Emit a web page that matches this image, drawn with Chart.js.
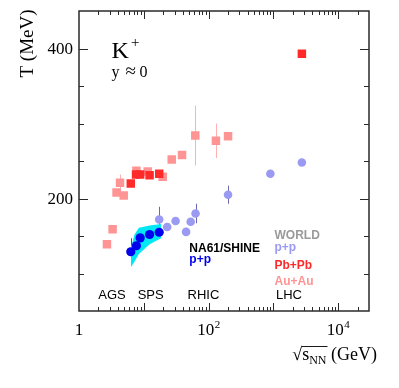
<!DOCTYPE html>
<html><head><meta charset="utf-8">
<script src="https://cdn.jsdelivr.net/npm/chart.js@4/dist/chart.umd.min.js"></script>
<style>html,body{margin:0;padding:0;background:#fff;} canvas{display:block;}</style>
</head><body>
<canvas id="c" width="399" height="388"></canvas>
<script>
// ---- axis ranges / ticks ----
const xMin = 1, xMax = 30000, yMin = 50, yMax = 450;
const yTickStep = 50;
const yLabelTicks = [200, 400];
const xLabelExps = [0, 2, 4];

// ---- NA61/SHINE p+p ----
const na61Energy = [6.3, 7.7, 8.8, 12.3, 17.3];
const na61T = [129, 137, 147.5, 152, 155];
const na61Err = [18, 3, 3, 3, 3];

// ---- NA61 systematic band ----
const bandEnergy = [6.3, 7.2, 8.4, 12.3, 18.5];
const bandUpper = [134, 152, 161, 164, 166];
const bandLower = [108, 116, 126, 139, 147];

// ---- world p+p ----
const ppEnergy = [17.3, 23, 31, 45, 53, 63, 200, 900, 2760];
const ppT = [172, 162, 170, 155.5, 169, 180, 205, 233, 248];
const ppErr = [17, 0, 0, 0, 0, 13, 12, 5, 0];

// ---- Pb+Pb ----
const pbEnergy = [6.3, 7.6, 8.8, 12.3, 17.3, 2760];
const pbT = [220, 232, 232, 231, 233, 393];
const pbErr = [0, 0, 0, 0, 0, 0];

// ---- Au+Au ----
const auEnergy = [2.7, 3.3, 3.8, 4.3, 4.9, 7.7, 11.5, 19.6, 27, 39, 62.4, 130, 200];
const auT = [139, 159, 208, 221, 204, 237, 236, 229, 252, 258, 284, 277, 283];
const auErr = [0, 0, 0, 11, 0, 0, 0, 0, 0, 0, 40, 23, 5];

const regionLabels = ['AGS', 'SPS', 'RHIC', 'LHC'];

const COL = {
  red: '#ff2a2a', pink: '#ff9494', lav: '#9a9af2', blue: '#0000ee', cyan: '#00e8f4',
  frame: '#2a2a2a'
};
const SERIF = '"Liberation Serif", "Times New Roman", serif';
const SANS = '"Liberation Sans", Arial, sans-serif';

const toPts = (xs, ys) => xs.map((x, i) => ({x: x, y: ys[i]}));

const errorBars = [
  {xs: auEnergy, ys: auT, es: auErr, color: '#ffb0b0'},
  {xs: pbEnergy, ys: pbT, es: pbErr, color: '#ff5050'},
  {xs: ppEnergy, ys: ppT, es: ppErr, color: '#6a6aa8'},
  {xs: na61Energy, ys: na61T, es: na61Err, color: '#3a3aff'}
];

const errPlugin = {
  id: 'errbars',
  beforeDatasetsDraw(chart) {
    const ctx = chart.ctx, xs = chart.scales.x, ys = chart.scales.y;
    ctx.save();
    ctx.lineWidth = 1;
    errorBars.forEach(s => {
      ctx.strokeStyle = s.color;
      s.xs.forEach((x, i) => {
        if (!s.es[i]) return;
        const px = Math.round(xs.getPixelForValue(x)) + 0.5;
        ctx.beginPath();
        ctx.moveTo(px, ys.getPixelForValue(s.ys[i] + s.es[i]));
        ctx.lineTo(px, ys.getPixelForValue(s.ys[i] - s.es[i]));
        ctx.stroke();
      });
    });
    ctx.restore();
  }
};

const framePlugin = {
  id: 'frame',
  afterDraw(chart) {
    const ctx = chart.ctx, xs = chart.scales.x, ys = chart.scales.y;
    const a = chart.chartArea;
    ctx.save();
    ctx.strokeStyle = COL.frame;
    ctx.lineWidth = 1.5;
    ctx.strokeRect(a.left, a.top, a.right - a.left, a.bottom - a.top);
    ctx.lineWidth = 1;
    ctx.beginPath();
    // x ticks (log)
    for (let e = 0; e <= 5; e++) {
      for (let m = 1; m <= 9; m++) {
        const v = m * Math.pow(10, e);
        if (v <= xMin || v >= xMax) continue;
        const px = Math.round(xs.getPixelForValue(v)) + 0.5;
        const len = m === 1 ? 8 : 4;
        ctx.moveTo(px, a.bottom); ctx.lineTo(px, a.bottom - len);
        ctx.moveTo(px, a.top); ctx.lineTo(px, a.top + len);
      }
    }
    // y ticks
    for (let v = yMin + yTickStep; v < yMax; v += yTickStep) {
      const py = Math.round(ys.getPixelForValue(v)) + 0.5;
      const len = yLabelTicks.includes(v) ? 9 : 5;
      ctx.moveTo(a.left, py); ctx.lineTo(a.left + len, py);
      ctx.moveTo(a.right, py); ctx.lineTo(a.right - len, py);
    }
    ctx.stroke();

    // tick labels
    ctx.fillStyle = '#000';
    ctx.font = '17px ' + SERIF;
    ctx.textAlign = 'right';
    ctx.textBaseline = 'alphabetic';
    yLabelTicks.forEach(v => {
      ctx.fillText(String(v), a.left - 6, ys.getPixelForValue(v) + 5.5);
    });
    ctx.textAlign = 'left';
    xLabelExps.forEach(e => {
      const px = xs.getPixelForValue(Math.pow(10, e));
      const base = 335;
      if (e === 0) {
        ctx.font = '17px ' + SERIF;
        const w = ctx.measureText('1').width;
        ctx.fillText('1', px - w / 2, base);
      } else {
        ctx.font = '17px ' + SERIF;
        const w1 = ctx.measureText('10').width;
        ctx.font = '11px ' + SERIF;
        const w2 = ctx.measureText(String(e)).width;
        const x0 = px - (w1 + w2) / 2;
        ctx.font = '17px ' + SERIF;
        ctx.fillText('10', x0, base);
        ctx.font = '11px ' + SERIF;
        ctx.fillText(String(e), x0 + w1 + 0.5, base - 7);
      }
    });

    // x title: sqrt(s_NN) (GeV)
    const tb = 360;
    ctx.font = '18px ' + SERIF;
    const wRoot = ctx.measureText('\u221A').width;
    const wS = ctx.measureText('s').width;
    ctx.font = '12px ' + SERIF;
    const wNN = ctx.measureText('NN').width;
    ctx.font = '18px ' + SERIF;
    const wG = ctx.measureText(' (GeV)').width;
    let x0 = 377 - (wRoot + wS + wNN + wG);
    ctx.fillText('\u221A', x0, tb);
    ctx.fillText('s', x0 + wRoot, tb);
    ctx.font = '12px ' + SERIF;
    ctx.fillText('NN', x0 + wRoot + wS, tb + 4);
    ctx.font = '18px ' + SERIF;
    ctx.fillText(' (GeV)', x0 + wRoot + wS + wNN, tb);
    ctx.strokeStyle = '#000';
    ctx.lineWidth = 0.9;
    ctx.beginPath();
    ctx.moveTo(x0 + wRoot - 0.5, 346.5);
    ctx.lineTo(x0 + wRoot + wS + wNN + 1, 346.5);
    ctx.stroke();

    // y title
    ctx.save();
    ctx.translate(33, 43.5);
    ctx.rotate(-Math.PI / 2);
    ctx.font = '19px ' + SERIF;
    ctx.textAlign = 'center';
    ctx.fillText('T (MeV)', 0, 0);
    ctx.restore();

    // K+ and y ~ 0
    ctx.textAlign = 'left';
    ctx.font = '24px ' + SERIF;
    ctx.fillText('K', 111.5, 58);
    ctx.font = '15px ' + SERIF;
    ctx.fillText('+', 131, 47);
    ctx.font = '16px ' + SERIF;
    ctx.fillText('y', 111.5, 76.5);
    ctx.font = '19px ' + SERIF;
    ctx.fillText('\u2248', 125.5, 77);
    ctx.font = '16px ' + SERIF;
    ctx.fillText('0', 139.5, 76.5);

    // legend texts
    ctx.font = 'bold 12px ' + SANS;
    ctx.fillStyle = '#000';
    ctx.fillText('NA61/SHINE', 189.3, 251.7);
    ctx.fillStyle = COL.blue;
    ctx.fillText('p+p', 189.3, 262.5);
    ctx.fillStyle = '#9a9a9a';
    ctx.fillText('WORLD', 274.5, 238.5);
    ctx.fillStyle = COL.lav;
    ctx.fillText('p+p', 274.5, 250.5);
    ctx.fillStyle = COL.red;
    ctx.fillText('Pb+Pb', 274.5, 269.3);
    ctx.fillStyle = COL.pink;
    ctx.fillText('Au+Au', 274.5, 285);

    // region labels
    ctx.fillStyle = '#000';
    ctx.font = '13px ' + SANS;
    const rx = [98.3, 137.7, 187.5, 276];
    regionLabels.forEach((t, i) => ctx.fillText(t, rx[i], 299));
    ctx.restore();
  }
};

new Chart(document.getElementById('c'), {
  type: 'scatter',
  data: {
    datasets: [
      {label: 'band upper', data: toPts(bandEnergy, bandUpper), showLine: true, fill: '+1',
       backgroundColor: COL.cyan, borderColor: 'rgba(0,0,0,0)', borderWidth: 0, pointRadius: 0, order: 10},
      {label: 'band lower', data: toPts(bandEnergy, bandLower), showLine: true, fill: false,
       backgroundColor: COL.cyan, borderColor: 'rgba(0,0,0,0)', borderWidth: 0, pointRadius: 0, order: 11},
      {label: 'Au+Au', data: toPts(auEnergy, auT), pointStyle: 'rect', pointRadius: 6,
       backgroundColor: COL.pink, borderWidth: 0, order: 6},
      {label: 'Pb+Pb', data: toPts(pbEnergy, pbT), pointStyle: 'rect', pointRadius: 6,
       backgroundColor: COL.red, borderWidth: 0, order: 5},
      {label: 'p+p world', data: toPts(ppEnergy, ppT), pointStyle: 'circle', pointRadius: 4.3,
       backgroundColor: COL.lav, borderWidth: 0, order: 4},
      {label: 'NA61 p+p', data: toPts(na61Energy, na61T), pointStyle: 'circle', pointRadius: 4.6,
       backgroundColor: COL.blue, borderWidth: 0, order: 1}
    ]
  },
  options: {
    responsive: false,
    devicePixelRatio: 1,
    animation: false,
    layout: {padding: {left: 79, top: 11, right: 30, bottom: 77}},
    plugins: {legend: {display: false}, tooltip: {enabled: false}},
    scales: {
      x: {type: 'logarithmic', min: xMin, max: xMax, display: false},
      y: {type: 'linear', min: yMin, max: yMax, display: false}
    }
  },
  plugins: [errPlugin, framePlugin]
});
</script>
</body></html>
